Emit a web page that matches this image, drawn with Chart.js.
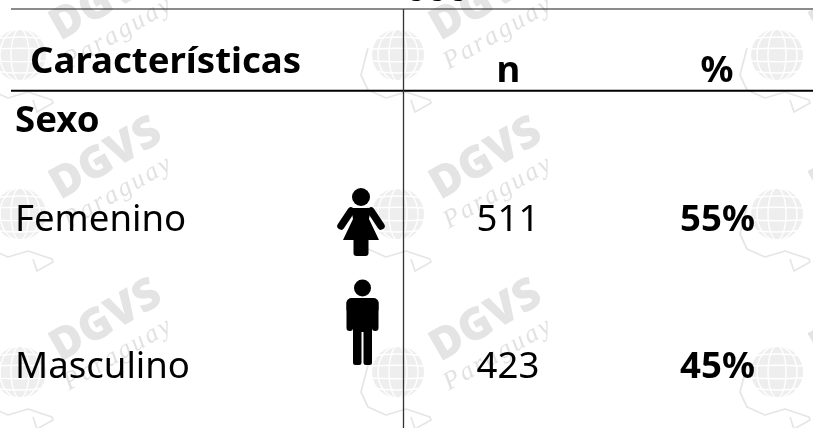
<!DOCTYPE html>
<html><head><meta charset="utf-8">
<style>html,body{margin:0;padding:0;background:#fff;overflow:hidden}#w{position:relative;width:813px;height:428px}</style>
<script src="https://cdn.jsdelivr.net/npm/chart.js@4"></script></head>
<body><div id="w"><canvas id="c" width="813" height="428"></canvas></div>
<script>
const headers = ['Características', 'n', '%'];
const groupLabel = 'Sexo';
const categories = ['Femenino', 'Masculino'];
const counts = [511, 423];
const percents = ['55%', '45%'];
const topFragment = '000';

const FONT = '"Noto Sans", sans-serif';
const SIZE = 36.6;

const tablePlugin = {
  id: 'table',
  beforeDatasetsDraw(chart) {
    const { ctx, scales: { x, y } } = chart;
    const X = v => x.getPixelForValue(v), Y = v => y.getPixelForValue(v);
    ctx.save();
    ctx.filter = 'blur(0.7px)';
    const cols = [20, 398, 777], rows = [55, 214, 372];
    rows.forEach(gy => cols.forEach(gx => globe(ctx, X(gx), Y(gy))));
    [105, 485, 865].forEach(mx => [-2, 157, 319].forEach(my => mark(ctx, X(mx), Y(my))));
    ctx.restore();
  },
  afterDatasetsDraw(chart) {
    const { ctx, scales: { x, y } } = chart;
    const X = v => x.getPixelForValue(v), Y = v => y.getPixelForValue(v);
    ctx.save();
    ctx.fillStyle = '#000';
    ctx.textBaseline = 'alphabetic';
    ctx.filter = 'blur(0.35px)';
    const text = (s, px, py, bold, align) => {
      ctx.font = (bold ? '700 ' : '400 ') + SIZE + 'px ' + FONT;
      ctx.textAlign = align || 'left';
      ctx.fillText(String(s), X(px), Y(py));
    };
    text(topFragment, 437, 0.5, true, 'center');
    const rule = (x0, y0, x1, y1, w, col) => {
      ctx.strokeStyle = col; ctx.lineWidth = w;
      ctx.beginPath(); ctx.moveTo(X(x0), Y(y0)); ctx.lineTo(X(x1), Y(y1)); ctx.stroke();
    };
    rule(11, 9, 813, 9, 1.2, '#1a1a1a');
    rule(11, 90.7, 813, 90.7, 2, '#000');
    rule(403.5, 9, 403.5, 428, 1.3, '#333');
    text(headers[0], 30, 72.5, true);
    text(headers[1], 508.5, 81.5, true, 'center');
    text(headers[2], 717, 81.5, true, 'center');
    text(groupLabel, 15, 132, true);
    const rowY = [231, 378];
    categories.forEach((c, i) => {
      text(c, 15, rowY[i], false);
      text(counts[i], 508, rowY[i], false, 'center');
      text(percents[i], 717.5, rowY[i], true, 'center');
    });
    woman(ctx, X(361), Y(197));
    man(ctx, X(362.5), Y(288));
    ctx.restore();
  }
};

function globe(ctx, cx, cy) {
  ctx.save();
  ctx.beginPath(); ctx.arc(cx, cy, 26, 0, Math.PI * 2); ctx.fillStyle = '#eeeeee'; ctx.fill();
  ctx.strokeStyle = '#fff'; ctx.lineWidth = 1.4;
  [9, 20].forEach(rx => { ctx.beginPath(); ctx.ellipse(cx, cy, rx, 26, 0, 0, Math.PI * 2); ctx.stroke(); });
  [-16, -6, 6, 16].forEach(d => {
    ctx.beginPath(); ctx.moveTo(cx - 26, cy + d); ctx.quadraticCurveTo(cx, cy + d * 1.25, cx + 26, cy + d); ctx.stroke();
  });
  ctx.strokeStyle = '#e6e6e6'; ctx.lineWidth = 1.8; ctx.lineJoin = 'round';
  const p = [[-30,-7],[-37,20],[-30,35],[-12,43],[8,37],[32,45],[33,48],[17,57],[13,45]];
  ctx.beginPath();
  p.forEach(([a, b], i) => i ? ctx.lineTo(cx + a, cy + b) : ctx.moveTo(cx + a, cy + b));
  ctx.stroke();
  ctx.restore();
}
function mark(ctx, cx, cy) {
  ctx.save();
  ctx.translate(cx, cy); ctx.rotate(-30 * Math.PI / 180);
  ctx.textAlign = 'center'; ctx.textBaseline = 'alphabetic';
  ctx.fillStyle = '#e4e4e4';
  ctx.font = '800 44px "Open Sans", sans-serif';
  ctx.fillText('DGVS', 0, 15);
  ctx.fillStyle = '#e2e2e2';
  ctx.font = 'italic 26px "Liberation Serif", serif';
  ctx.letterSpacing = '2.5px';
  ctx.fillText('Paraguay', -6, 44);
  ctx.restore();
}
function woman(ctx, cx, cy) {
  ctx.save(); ctx.translate(cx, cy);
  ctx.fillStyle = ctx.strokeStyle = '#000';
  ctx.beginPath(); ctx.arc(0, 0, 9, 0, Math.PI * 2); ctx.fill();
  ctx.lineCap = 'round'; ctx.lineWidth = 7.5;
  ctx.beginPath(); ctx.moveTo(-10, 14); ctx.lineTo(-20, 29); ctx.moveTo(10, 14); ctx.lineTo(20, 29); ctx.stroke();
  ctx.beginPath();
  ctx.moveTo(-10, 11); ctx.lineTo(10, 11); ctx.lineTo(8, 22); ctx.lineTo(18, 43); ctx.lineTo(-18, 43); ctx.lineTo(-8, 22); ctx.closePath(); ctx.fill();
  ctx.beginPath(); ctx.roundRect(-7.5, 40, 15, 19, 3); ctx.fill();
  ctx.restore();
}
function man(ctx, cx, cy) {
  ctx.save(); ctx.translate(cx, cy);
  ctx.fillStyle = '#000';
  ctx.beginPath(); ctx.arc(0, 0, 8.5, 0, Math.PI * 2); ctx.fill();
  ctx.beginPath(); ctx.roundRect(-16, 10, 32, 16, 5); ctx.fill();
  ctx.beginPath(); ctx.roundRect(-16, 12, 6.5, 31, 3); ctx.fill();
  ctx.beginPath(); ctx.roundRect(9.5, 12, 6.5, 31, 3); ctx.fill();
  ctx.fillRect(-9.5, 12, 19, 32);
  ctx.beginPath(); ctx.roundRect(-9.5, 30, 8.5, 47, 2.5); ctx.fill();
  ctx.beginPath(); ctx.roundRect(1, 30, 8.5, 47, 2.5); ctx.fill();
  ctx.restore();
}

new Chart(document.getElementById('c'), {
  type: 'scatter',
  data: { datasets: [] },
  options: {
    responsive: false,
    animation: false,
    layout: { padding: 0 },
    plugins: { legend: { display: false }, tooltip: { enabled: false }, title: { display: false } },
    scales: {
      x: { type: 'linear', min: 0, max: 813, display: false },
      y: { type: 'linear', min: 0, max: 428, reverse: true, display: false }
    }
  },
  plugins: [tablePlugin]
});
</script></body></html>
